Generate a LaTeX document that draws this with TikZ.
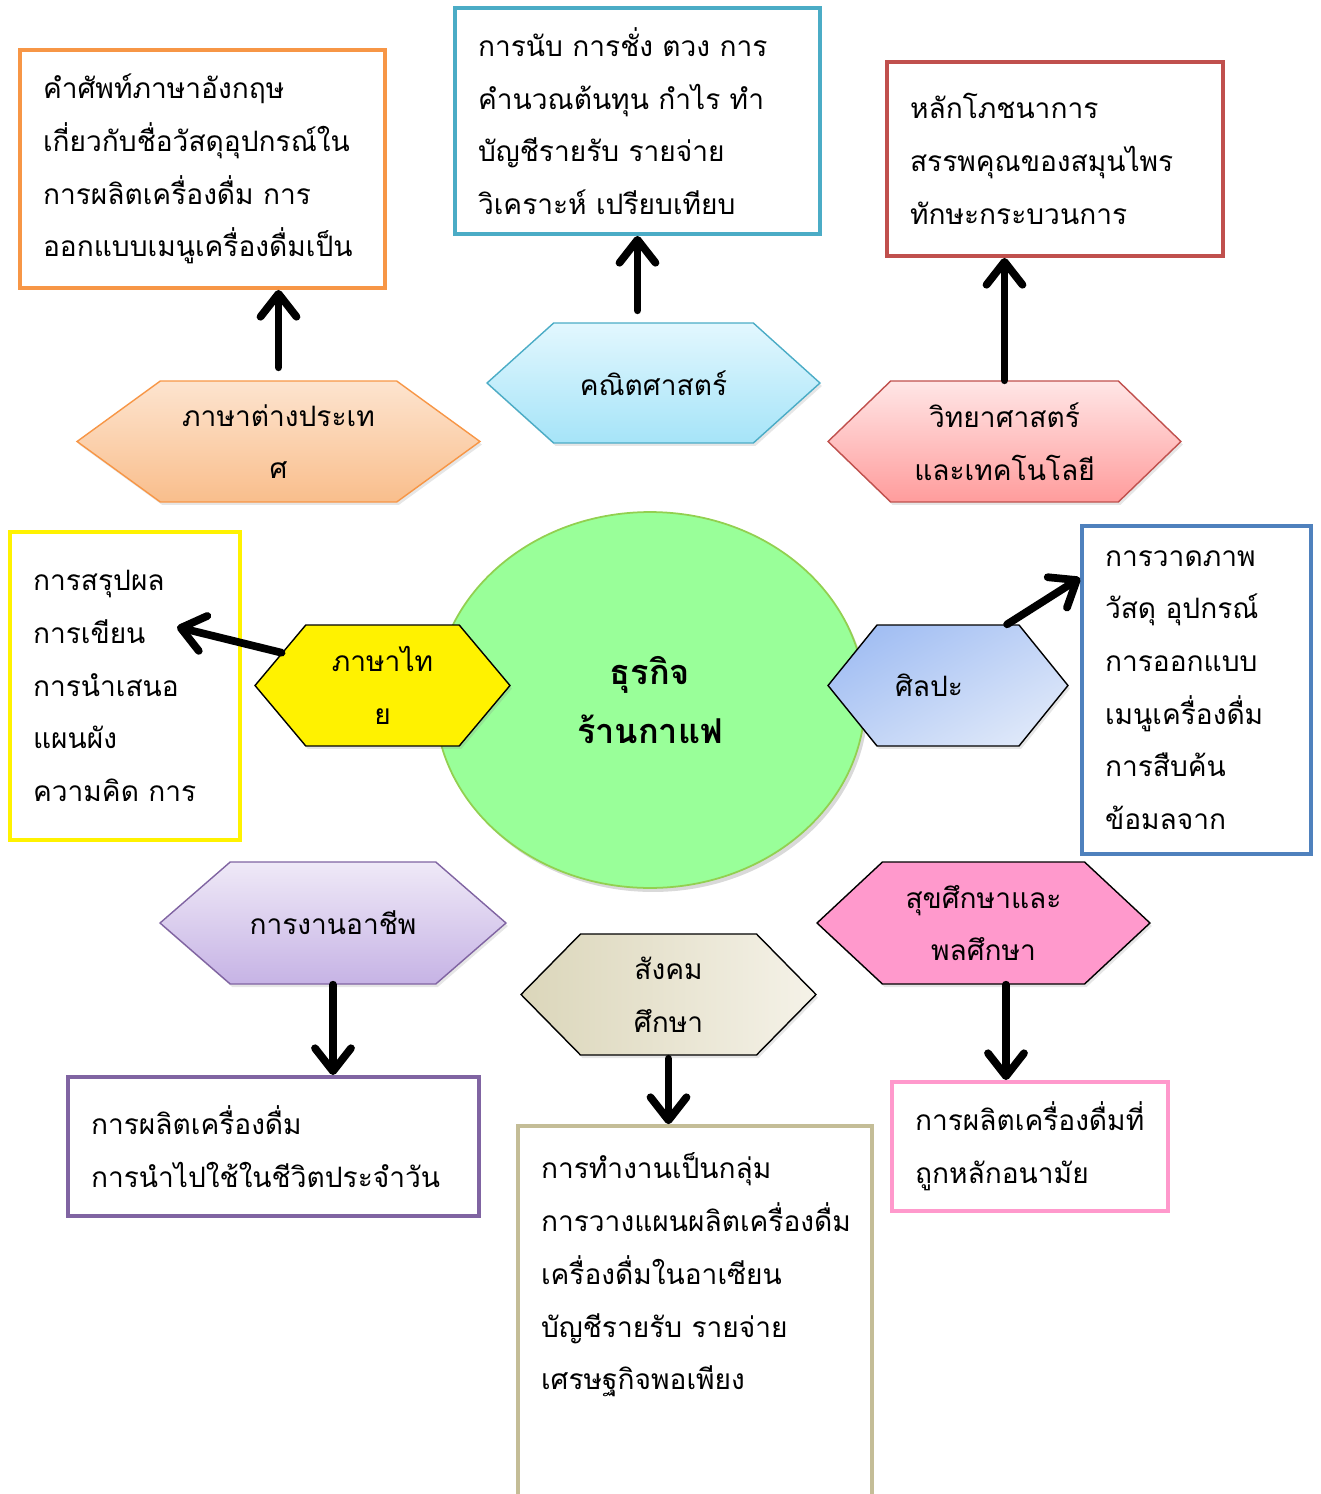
\documentclass[tikz,border=0pt]{standalone}
\usepackage{fontspec}
\newfontfamily\thaifont[Script=Thai]{Loma}
\usetikzlibrary{shapes.symbols, shapes.geometric, arrows.meta, shadows}

\definecolor{orangeline}{HTML}{F79646}
\definecolor{tealline}{HTML}{4BACC6}
\definecolor{redline}{HTML}{C0504D}
\definecolor{blueline}{HTML}{4F81BD}
\definecolor{purpleline}{HTML}{8064A2}
\definecolor{tanline}{HTML}{C4BD97}
\definecolor{pinkline}{HTML}{FF99CC}
\definecolor{corefill}{HTML}{99FF99}
\definecolor{coreline}{HTML}{92D050}
\definecolor{langtop}{HTML}{FDE4CF}
\definecolor{langbottom}{HTML}{F9BE8C}
\definecolor{mathtop}{HTML}{E2F7FE}
\definecolor{mathbottom}{HTML}{A6E4F8}
\definecolor{scitop}{HTML}{FFE6E6}
\definecolor{scibottom}{HTML}{FF9C9C}
\definecolor{arttop}{HTML}{A3BFF3}
\definecolor{artbottom}{HTML}{DDE7F9}
\definecolor{worktop}{HTML}{EFE9F7}
\definecolor{workbottom}{HTML}{C6B3E5}
\definecolor{socleft}{HTML}{DBD6BA}
\definecolor{socright}{HTML}{F5F2E8}

\begin{document}
\begin{tikzpicture}[x = 0.02cm, y = -0.02cm,
	box/.style = {draw = #1, line width = 2.2pt, fill = white, align = left, inner xsep = 0.46cm,
		font = \thaifont\fontsize{16}{30}\selectfont},
	hex/.style = {shape = signal, signal to = west and east, draw = #1, line width = 0.8pt,
		align = center, inner sep = 0pt, font = \thaifont\fontsize{16}{30}\selectfont,
		drop shadow = {opacity = 0.2, shadow xshift = 0.04cm, shadow yshift = -0.06cm}},
	pointer/.style = {line width = 4.4pt, line cap = round,
		-{Straight Barb[length = 0.46cm, width = 0.72cm, round]}}
]
	\clip (0,0) rectangle (1321,1494);

	% centre
	\node[ellipse, draw = coreline, fill = corefill, line width = 1pt,
		minimum width = 8.6cm, minimum height = 7.52cm, align = center,
		font = \thaifont\bfseries\fontsize{19.5}{34}\selectfont,
		drop shadow = {opacity = 0.3, shadow xshift = 0.06cm, shadow yshift = -0.08cm}]
		(core) at (650,700) {ธุรกิจ\\ร้านกาแฟ};

	% subjects
	\node[hex = orangeline, top color = langtop, bottom color = langbottom,
		minimum width = 8.06cm, minimum height = 2.42cm, signal pointer angle = 72]
		(langhex) at (278.5,441.5) {ภาษาต่างประเท\\ศ};
	\node[hex = tealline, top color = mathtop, bottom color = mathbottom,
		minimum width = 6.66cm, minimum height = 2.4cm, signal pointer angle = 84]
		(mathhex) at (653.5,383) {คณิตศาสตร์};
	\node[hex = redline, top color = scitop, bottom color = scibottom,
		minimum width = 7.06cm, minimum height = 2.42cm, signal pointer angle = 88]
		(scihex) at (1004.5,441.5) {วิทยาศาสตร์\\และเทคโนโลยี};
	\node[hex = black, fill = yellow,
		minimum width = 5.1cm, minimum height = 2.42cm, signal pointer angle = 100]
		(thaihex) at (382.5,685.5) {ภาษาไท\\ย};
	\node[hex = black, top color = arttop, bottom color = artbottom, shading angle = 30,
		minimum width = 4.8cm, minimum height = 2.42cm, signal pointer angle = 102]
		(arthex) at (948,685.5) {ศิลปะ\hspace*{0.76cm}};
	\node[hex = purpleline, top color = worktop, bottom color = workbottom,
		minimum width = 6.92cm, minimum height = 2.44cm, signal pointer angle = 82]
		(workhex) at (333,923) {การงานอาชีพ};
	\node[hex = black, left color = socleft, right color = socright,
		minimum width = 5.9cm, minimum height = 2.42cm, signal pointer angle = 91]
		(sochex) at (668.5,994.5) {สังคม\\ศึกษา};
	\node[hex = black, fill = pinkline,
		minimum width = 6.66cm, minimum height = 2.44cm, signal pointer angle = 86]
		(healthhex) at (983.5,923) {สุขศึกษาและ\\พลศึกษา};

	% content boxes
	\node[box = orangeline, text width = 6.38cm, minimum height = 4.76cm] (langbox) at (202.5,169)
		{คำศัพท์ภาษาอังกฤษ\\เกี่ยวกับชื่อวัสดุอุปกรณ์ใน\\การผลิตเครื่องดื่ม การ\\ออกแบบเมนูเครื่องดื่มเป็น};
	\node[box = tealline, text width = 6.38cm, minimum height = 4.52cm] (mathbox) at (637.5,121)
		{การนับ การชั่ง ตวง การ\\คำนวณต้นทุน กำไร ทำ\\บัญชีรายรับ รายจ่าย\\วิเคราะห์ เปรียบเทียบ};
	\node[box = redline, text width = 5.8cm, minimum height = 3.88cm] (scibox) at (1055,159)
		{หลักโภชนาการ\\สรรพคุณของสมุนไพร\\ทักษะกระบวนการ};
	\node[box = yellow, text width = 3.68cm, minimum height = 6.16cm] (thaibox) at (125,686)
		{การสรุปผล\\การเขียน\\การนำเสนอ\\แผนผัง\\ความคิด การ};
	\node[box = blueline, text width = 3.66cm, minimum height = 6.56cm] (artbox) at (1196.5,690)
		{การวาดภาพ\\วัสดุ อุปกรณ์\\การออกแบบ\\เมนูเครื่องดื่ม\\การสืบค้น\\ข้อมลจาก};
	\node[box = purpleline, text width = 7.3cm, minimum height = 2.78cm] (workbox) at (273.5,1146.5)
		{การผลิตเครื่องดื่ม\\การนำไปใช้ในชีวิตประจำวัน};
	\node[box = tanline, text width = 6.16cm, minimum height = 7.92cm] (socbox) at (695,1324)
		{การทำงานเป็นกลุ่ม\\การวางแผนผลิตเครื่องดื่ม\\เครื่องดื่มในอาเซียน\\บัญชีรายรับ รายจ่าย\\เศรษฐกิจพอเพียง\\\mbox{}\\\mbox{}};
	\node[box = pinkline, text width = 4.6cm, minimum height = 2.58cm] (healthbox) at (1030,1146.5)
		{การผลิตเครื่องดื่มที่\\ถูกหลักอนามัย};

	% links
	\coordinate (thaitip) at (177,627);
	\coordinate (arttip) at (1080,578);
	\coordinate (healthfoot) at ([xshift = 0.45cm]healthhex.south);
	\foreach \from/\to/\gap in {langhex.north/langhex.north |- langbox.south/0.26cm,
		mathbox.south |- mathhex.north/mathbox.south/0.24cm,
		scihex.north/scihex.north |- scibox.south/0pt,
		workhex.south/workhex.south |- workbox.north/0pt,
		sochex.south/sochex.south |- socbox.north/0.06cm,
		healthfoot/healthfoot |- healthbox.north/0pt,
		thaihex.162/thaitip/0pt,
		arthex.46/arttip/0pt}{
		\draw[pointer, shorten < = \gap] (\from) -- (\to);
	}
\end{tikzpicture}
\end{document}
